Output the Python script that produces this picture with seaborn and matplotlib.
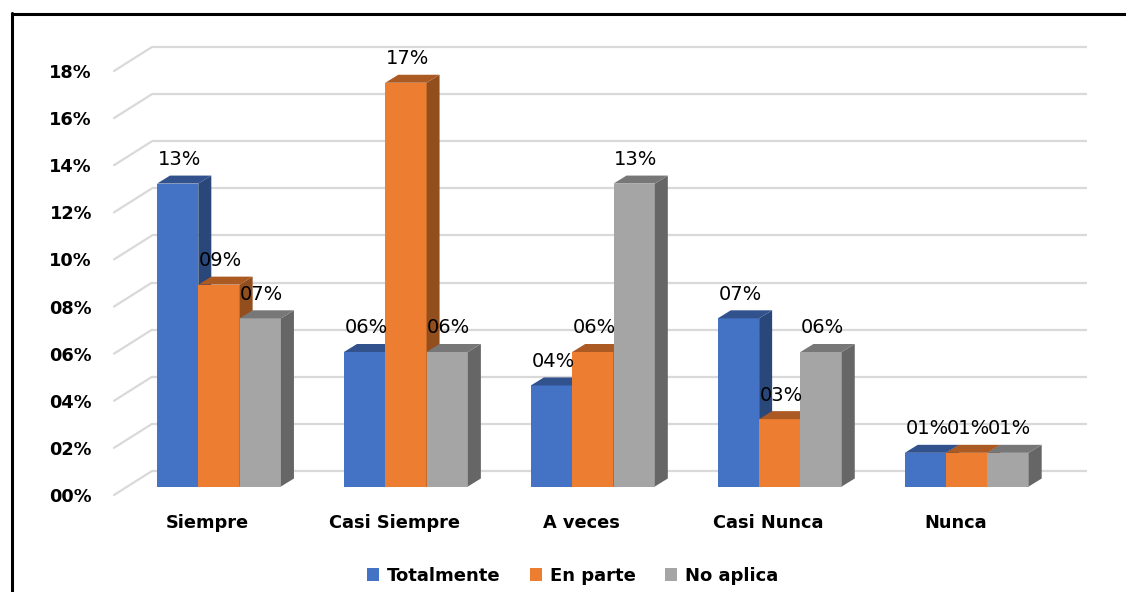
import numpy as np
import pandas as pd
import matplotlib
matplotlib.use("Agg")
import matplotlib.pyplot as plt
import matplotlib.transforms as mtransforms
from matplotlib.patches import Polygon, Rectangle
from matplotlib.lines import Line2D
from matplotlib.colors import to_rgb
import seaborn as sns

# ---- data -------------------------------------------------------------
categorias = ["Siempre", "Casi Siempre", "A veces", "Casi Nunca", "Nunca"]
series = ["Totalmente", "En parte", "No aplica"]
totalmente = [12.86, 5.71, 4.29, 7.14, 1.43]
en_parte = [8.57, 17.14, 5.71, 2.86, 1.43]
no_aplica = [7.14, 5.71, 12.86, 5.71, 1.43]
colores = ["#4472C4", "#ED7D31", "#A5A5A5"]
y_ticks = list(range(0, 19, 2))

# ---- style ------------------------------------------------------------
sns.set_theme(style="white")
plt.rcParams["font.family"] = ["DejaVu Sans"]
plt.rcParams["text.color"] = "black"

W, H, DPI = 1126, 592, 100
WALL = (38, 24)          # pixel offset of the back wall
BAR_SHIFT = (11.5, 8.5)  # pixel offset of the bar front faces
BAR_DEPTH = (13, 8)      # pixel depth of each 3-D bar
GRID = "#D9D9D9"


def shade(c, f):
    return tuple(np.clip(np.array(to_rgb(c)) * f, 0, 1))


fig = plt.figure(figsize=(W / DPI, H / DPI), dpi=DPI)
fig.patch.set_facecolor("white")
ax = fig.add_axes([114 / W, (H - 495) / H, (1048.7 - 114) / W, (495 - 71) / H])
ax.set_facecolor("none")

df = pd.DataFrame({
    "categoria": categorias * len(series),
    "serie": np.repeat(series, len(categorias)),
    "valor": totalmente + en_parte + no_aplica,
})

sns.barplot(data=df, x="categoria", y="valor", hue="serie",
            order=categorias, hue_order=series, palette=colores,
            saturation=1, width=0.663, linewidth=0, errorbar=None,
            legend=False, ax=ax)

ax.set_xlim(-0.5, len(categorias) - 0.5)
ax.set_ylim(0, 18)
for s in ax.spines.values():
    s.set_visible(False)
ax.set_xlabel("")
ax.set_ylabel("")

# ---- back wall grid ---------------------------------------------------
ident = mtransforms.IdentityTransform()
wall_tr = mtransforms.offset_copy(ax.transData, fig=fig, x=WALL[0], y=WALL[1], units="dots")
ax.hlines(y_ticks, -0.5, len(categorias) - 0.5, transform=wall_tr,
          color=GRID, lw=1.6, clip_on=False, zorder=0)
for v in y_ticks:
    p0 = ax.transData.transform((-0.5, v))
    ax.add_line(Line2D([p0[0], p0[0] + WALL[0]], [p0[1], p0[1] + WALL[1]],
                       transform=ident, color=GRID, lw=1.6, clip_on=False, zorder=0))

# ---- 3-D bars ---------------------------------------------------------
bar_tr = mtransforms.offset_copy(ax.transData, fig=fig, x=BAR_SHIFT[0], y=BAR_SHIFT[1], units="dots")
bars = sorted(ax.patches, key=lambda p: p.get_x())
dx, dy = BAR_DEPTH
for i, p in enumerate(bars):
    p.set_transform(bar_tr)
    p.set_clip_on(False)
    z = 2 + i * 0.01
    p.set_zorder(z)
    face = p.get_facecolor()
    x0d, x1d = p.get_x(), p.get_x() + p.get_width()
    h = p.get_height()
    x0, yb = bar_tr.transform((x0d, 0))
    x1, yt = bar_tr.transform((x1d, h))
    top = Polygon([(x0, yt), (x1, yt), (x1 + dx, yt + dy), (x0 + dx, yt + dy)],
                  closed=True, transform=ident, facecolor=shade(face[:3], 0.72),
                  edgecolor="none", zorder=z + 0.005, clip_on=False)
    side = Polygon([(x1, yb), (x1, yt), (x1 + dx, yt + dy), (x1 + dx, yb + dy)],
                   closed=True, transform=ident, facecolor=shade(face[:3], 0.62),
                   edgecolor="none", zorder=z + 0.005, clip_on=False)
    ax.add_patch(side)
    ax.add_patch(top)
    ax.annotate(f"{h:02.0f}%", xy=((x0d + x1d) / 2, h), xytext=(13, 32.5),
                textcoords="offset pixels", ha="center", va="center",
                fontsize=14, color="black", zorder=10, annotation_clip=False)

# ---- axes text --------------------------------------------------------
ax.set_yticks(y_ticks)
ax.set_yticklabels([f"{v:02d}%" for v in y_ticks])
ax.set_xticks(range(len(categorias)))
ax.set_xticklabels(categorias)
ax.tick_params(axis="y", length=0, pad=15.8, labelsize=12.8, labelcolor="black")
ax.tick_params(axis="x", length=0, pad=13.6, labelsize=12.8, labelcolor="black")
for lbl in ax.get_yticklabels() + ax.get_xticklabels():
    lbl.set_fontweight("bold")

# ---- legend -----------------------------------------------------------
handles = [Rectangle((0, 0), 1, 1, facecolor=c, edgecolor="none") for c in colores]
leg = fig.legend(handles, series, loc="center", bbox_to_anchor=(572.5 / W, 1 - 576 / H),
                 ncol=3, frameon=False, handlelength=0.68, handleheight=0.68,
                 handletextpad=0.45, columnspacing=1.6,
                 prop={"size": 13, "weight": "bold"})
for t in leg.get_texts():
    t.set_color("black")

# ---- chart frame ------------------------------------------------------
fig.add_artist(Line2D([11.5 / W, 11.5 / W], [0, 1 - 13.2 / H], transform=fig.transFigure,
                      color="black", lw=2.2))
fig.add_artist(Line2D([11.5 / W, 1], [1 - 13.7 / H, 1 - 13.7 / H], transform=fig.transFigure,
                      color="black", lw=2.2))

fig.savefig("out.png", dpi=DPI, facecolor="white")
